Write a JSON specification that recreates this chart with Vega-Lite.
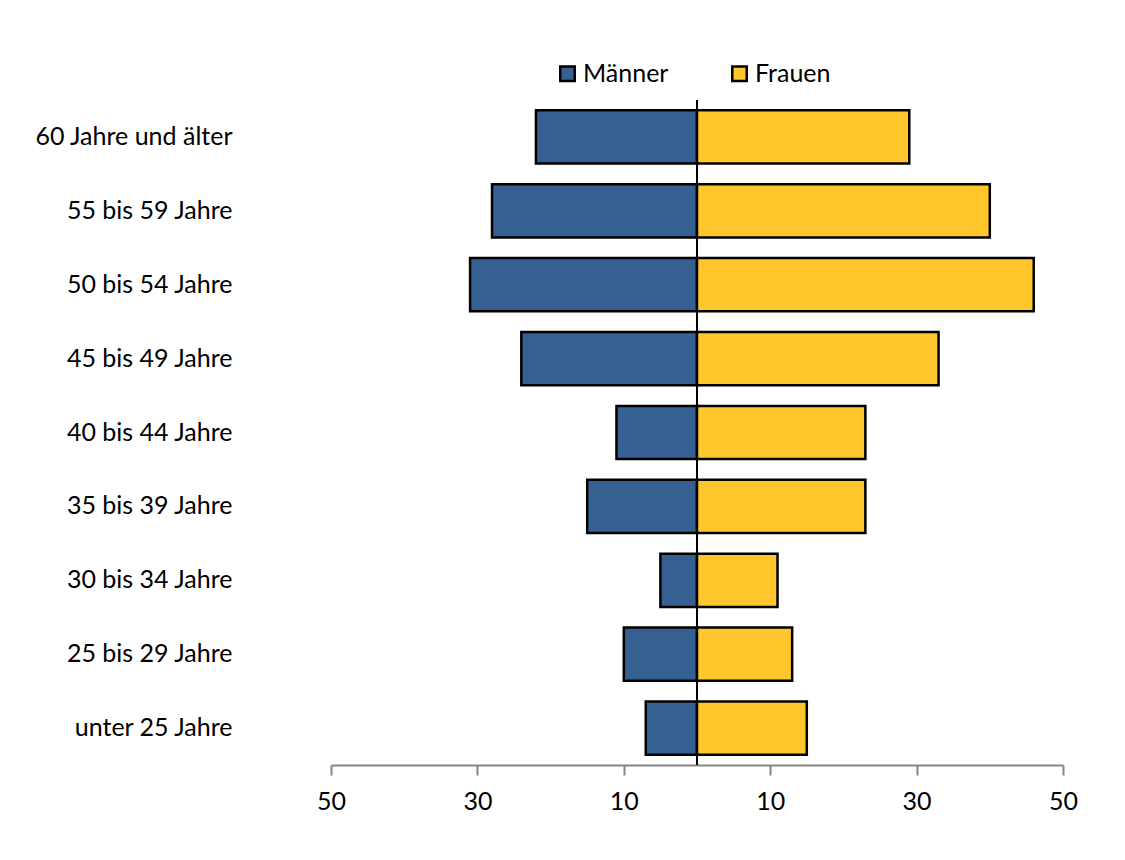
{
  "$schema": "https://vega.github.io/schema/vega-lite/v6.json",
  "autosize": {"type": "none"},
  "padding": {"left": 331, "top": 100, "right": 62, "bottom": 95},
  "width": 732,
  "height": 665,
  "background": "white",
  "config": {
    "view": {"stroke": null},
    "font": "Lato",
    "axis": {"labelFont": "Lato", "labelFontSize": 25, "labelColor": "#000000", "grid": false, "title": null, "labelLimit": 400}
  },
  "data": {
    "values": [
      {"age": "60 Jahre und älter", "sex": "Männer", "value": 22},
      {"age": "60 Jahre und älter", "sex": "Frauen", "value": 29},
      {"age": "55 bis 59 Jahre", "sex": "Männer", "value": 28},
      {"age": "55 bis 59 Jahre", "sex": "Frauen", "value": 40},
      {"age": "50 bis 54 Jahre", "sex": "Männer", "value": 31},
      {"age": "50 bis 54 Jahre", "sex": "Frauen", "value": 46},
      {"age": "45 bis 49 Jahre", "sex": "Männer", "value": 24},
      {"age": "45 bis 49 Jahre", "sex": "Frauen", "value": 33},
      {"age": "40 bis 44 Jahre", "sex": "Männer", "value": 11},
      {"age": "40 bis 44 Jahre", "sex": "Frauen", "value": 23},
      {"age": "35 bis 39 Jahre", "sex": "Männer", "value": 15},
      {"age": "35 bis 39 Jahre", "sex": "Frauen", "value": 23},
      {"age": "30 bis 34 Jahre", "sex": "Männer", "value": 5},
      {"age": "30 bis 34 Jahre", "sex": "Frauen", "value": 11},
      {"age": "25 bis 29 Jahre", "sex": "Männer", "value": 10},
      {"age": "25 bis 29 Jahre", "sex": "Frauen", "value": 13},
      {"age": "unter 25 Jahre", "sex": "Männer", "value": 7},
      {"age": "unter 25 Jahre", "sex": "Frauen", "value": 15}
    ]
  },
  "layer": [
    {
      "transform": [
        {"calculate": "datum.sex === 'Männer' ? -datum.value : datum.value", "as": "signed"}
      ],
      "mark": {"type": "bar", "stroke": "#000000", "strokeWidth": 2.5},
      "encoding": {
        "y": {
          "field": "age",
          "type": "nominal",
          "sort": ["60 Jahre und älter", "55 bis 59 Jahre", "50 bis 54 Jahre", "45 bis 49 Jahre", "40 bis 44 Jahre", "35 bis 39 Jahre", "30 bis 34 Jahre", "25 bis 29 Jahre", "unter 25 Jahre"],
          "scale": {"paddingInner": 0.28, "paddingOuter": 0.14},
          "axis": {"domain": false, "ticks": false, "labelPadding": 99, "labelAlign": "right", "labelLimit": 400}
        },
        "x": {
          "field": "signed",
          "type": "quantitative",
          "scale": {"domain": [-50, 50], "nice": false, "zero": false},
          "axis": {
            "values": [-50, -30, -10, 10, 30, 50],
            "labelExpr": "abs(datum.value)",
            "labelFlush": false,
            "domain": true,
            "domainColor": "#868686",
            "domainWidth": 2,
            "tickColor": "#868686",
            "tickWidth": 2,
            "tickSize": 10,
            "labelPadding": 14
          }
        },
        "color": {
          "field": "sex",
          "type": "nominal",
          "scale": {"domain": ["Männer", "Frauen"], "range": ["#376092", "#FFC72C"]},
          "legend": {
            "title": null,
            "orient": "none",
            "legendX": 224,
            "legendY": -39,
            "direction": "horizontal",
            "symbolType": "square",
            "symbolSize": 210,
            "symbolStrokeColor": "#000000",
            "symbolStrokeWidth": 2.5,
            "labelFont": "Lato",
            "labelFontSize": 25,
            "labelColor": "#000000",
            "labelOffset": 3,
            "columnPadding": 58
          }
        }
      }
    },
    {
      "mark": {"type": "rule", "color": "#000000", "strokeWidth": 1},
      "encoding": {"x": {"datum": 0, "type": "quantitative"}}
    }
  ]
}
